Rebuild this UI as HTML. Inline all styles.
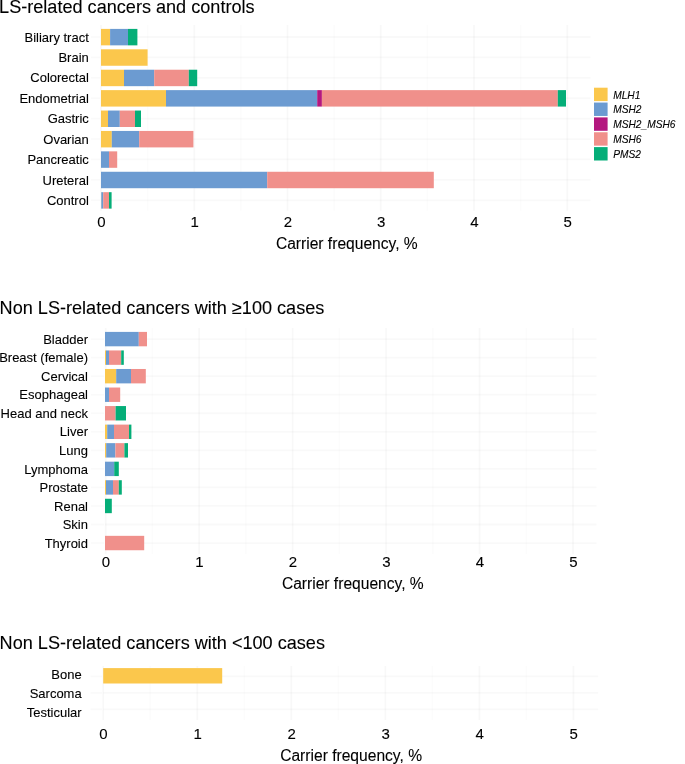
<!DOCTYPE html>
<html><head><meta charset="utf-8"><title>Carrier frequency</title>
<style>
html,body{margin:0;padding:0;background:#fff;}
body{width:685px;height:764px;overflow:hidden;position:relative;}
svg{position:absolute;left:0;top:0;display:block;will-change:transform;}
text{font-family:"Liberation Sans",sans-serif;fill:#000;stroke:#000;stroke-width:0.1px;}
</style></head><body>
<svg width="685" height="764" viewBox="0 0 685 764">
<rect x="0" y="0" width="685" height="764" fill="#ffffff"/>
<line x1="101.00" y1="25.00" x2="101.00" y2="210.80" stroke="#000" stroke-opacity="0.026" stroke-width="1.8"/>
<line x1="147.62" y1="25.00" x2="147.62" y2="210.80" stroke="#000" stroke-opacity="0.013" stroke-width="1.8"/>
<line x1="194.25" y1="25.00" x2="194.25" y2="210.80" stroke="#000" stroke-opacity="0.026" stroke-width="1.8"/>
<line x1="240.88" y1="25.00" x2="240.88" y2="210.80" stroke="#000" stroke-opacity="0.013" stroke-width="1.8"/>
<line x1="287.50" y1="25.00" x2="287.50" y2="210.80" stroke="#000" stroke-opacity="0.026" stroke-width="1.8"/>
<line x1="334.12" y1="25.00" x2="334.12" y2="210.80" stroke="#000" stroke-opacity="0.013" stroke-width="1.8"/>
<line x1="380.75" y1="25.00" x2="380.75" y2="210.80" stroke="#000" stroke-opacity="0.026" stroke-width="1.8"/>
<line x1="427.38" y1="25.00" x2="427.38" y2="210.80" stroke="#000" stroke-opacity="0.013" stroke-width="1.8"/>
<line x1="474.00" y1="25.00" x2="474.00" y2="210.80" stroke="#000" stroke-opacity="0.026" stroke-width="1.8"/>
<line x1="520.62" y1="25.00" x2="520.62" y2="210.80" stroke="#000" stroke-opacity="0.013" stroke-width="1.8"/>
<line x1="567.25" y1="25.00" x2="567.25" y2="210.80" stroke="#000" stroke-opacity="0.026" stroke-width="1.8"/>
<line x1="101.00" y1="37.00" x2="590.60" y2="37.00" stroke="#000" stroke-opacity="0.022" stroke-width="1.8"/>
<line x1="91.00" y1="37.00" x2="100.00" y2="37.00" stroke="#000" stroke-opacity="0.02" stroke-width="1.8"/>
<line x1="101.00" y1="57.41" x2="590.60" y2="57.41" stroke="#000" stroke-opacity="0.022" stroke-width="1.8"/>
<line x1="91.00" y1="57.41" x2="100.00" y2="57.41" stroke="#000" stroke-opacity="0.02" stroke-width="1.8"/>
<line x1="101.00" y1="77.82" x2="590.60" y2="77.82" stroke="#000" stroke-opacity="0.022" stroke-width="1.8"/>
<line x1="91.00" y1="77.82" x2="100.00" y2="77.82" stroke="#000" stroke-opacity="0.02" stroke-width="1.8"/>
<line x1="101.00" y1="98.23" x2="590.60" y2="98.23" stroke="#000" stroke-opacity="0.022" stroke-width="1.8"/>
<line x1="91.00" y1="98.23" x2="100.00" y2="98.23" stroke="#000" stroke-opacity="0.02" stroke-width="1.8"/>
<line x1="101.00" y1="118.64" x2="590.60" y2="118.64" stroke="#000" stroke-opacity="0.022" stroke-width="1.8"/>
<line x1="91.00" y1="118.64" x2="100.00" y2="118.64" stroke="#000" stroke-opacity="0.02" stroke-width="1.8"/>
<line x1="101.00" y1="139.05" x2="590.60" y2="139.05" stroke="#000" stroke-opacity="0.022" stroke-width="1.8"/>
<line x1="91.00" y1="139.05" x2="100.00" y2="139.05" stroke="#000" stroke-opacity="0.02" stroke-width="1.8"/>
<line x1="101.00" y1="159.46" x2="590.60" y2="159.46" stroke="#000" stroke-opacity="0.022" stroke-width="1.8"/>
<line x1="91.00" y1="159.46" x2="100.00" y2="159.46" stroke="#000" stroke-opacity="0.02" stroke-width="1.8"/>
<line x1="101.00" y1="179.87" x2="590.60" y2="179.87" stroke="#000" stroke-opacity="0.022" stroke-width="1.8"/>
<line x1="91.00" y1="179.87" x2="100.00" y2="179.87" stroke="#000" stroke-opacity="0.02" stroke-width="1.8"/>
<line x1="101.00" y1="200.28" x2="590.60" y2="200.28" stroke="#000" stroke-opacity="0.022" stroke-width="1.8"/>
<line x1="91.00" y1="200.28" x2="100.00" y2="200.28" stroke="#000" stroke-opacity="0.02" stroke-width="1.8"/>
<rect x="101.00" y="28.90" width="9.10" height="16.45" fill="#FBC74C"/>
<rect x="110.10" y="28.90" width="17.90" height="16.45" fill="#6C9BD1"/>
<rect x="128.00" y="28.90" width="9.40" height="16.45" fill="#05AE78"/>
<rect x="101.00" y="49.31" width="46.60" height="16.45" fill="#FBC74C"/>
<rect x="101.00" y="69.72" width="23.00" height="16.45" fill="#FBC74C"/>
<rect x="124.00" y="69.72" width="30.20" height="16.45" fill="#6C9BD1"/>
<rect x="154.20" y="69.72" width="34.60" height="16.45" fill="#F0908B"/>
<rect x="188.80" y="69.72" width="8.40" height="16.45" fill="#05AE78"/>
<rect x="101.00" y="90.13" width="65.00" height="16.45" fill="#FBC74C"/>
<rect x="166.00" y="90.13" width="151.20" height="16.45" fill="#6C9BD1"/>
<rect x="317.20" y="90.13" width="4.70" height="16.45" fill="#B4187F"/>
<rect x="321.90" y="90.13" width="235.90" height="16.45" fill="#F0908B"/>
<rect x="557.80" y="90.13" width="8.20" height="16.45" fill="#05AE78"/>
<rect x="101.00" y="110.54" width="7.00" height="16.45" fill="#FBC74C"/>
<rect x="108.00" y="110.54" width="11.80" height="16.45" fill="#6C9BD1"/>
<rect x="119.80" y="110.54" width="15.20" height="16.45" fill="#F0908B"/>
<rect x="135.00" y="110.54" width="6.00" height="16.45" fill="#05AE78"/>
<rect x="101.00" y="130.95" width="10.80" height="16.45" fill="#FBC74C"/>
<rect x="111.80" y="130.95" width="27.40" height="16.45" fill="#6C9BD1"/>
<rect x="139.20" y="130.95" width="54.20" height="16.45" fill="#F0908B"/>
<rect x="101.00" y="151.36" width="8.00" height="16.45" fill="#6C9BD1"/>
<rect x="109.00" y="151.36" width="8.20" height="16.45" fill="#F0908B"/>
<rect x="101.00" y="171.77" width="166.20" height="16.45" fill="#6C9BD1"/>
<rect x="267.20" y="171.77" width="166.60" height="16.45" fill="#F0908B"/>
<rect x="101.00" y="192.18" width="0.30" height="16.45" fill="#FBC74C"/>
<rect x="101.30" y="192.18" width="1.90" height="16.45" fill="#6C9BD1"/>
<rect x="103.20" y="192.18" width="5.80" height="16.45" fill="#F0908B"/>
<rect x="109.00" y="192.18" width="2.60" height="16.45" fill="#05AE78"/>
<text x="88.80" y="41.65" font-size="13" text-anchor="end" >Biliary tract</text>
<text x="88.80" y="62.06" font-size="13" text-anchor="end" >Brain</text>
<text x="88.80" y="82.47" font-size="13" text-anchor="end" >Colorectal</text>
<text x="88.80" y="102.88" font-size="13" text-anchor="end" >Endometrial</text>
<text x="88.80" y="123.29" font-size="13" text-anchor="end" >Gastric</text>
<text x="88.80" y="143.70" font-size="13" text-anchor="end" >Ovarian</text>
<text x="88.80" y="164.11" font-size="13" text-anchor="end" >Pancreatic</text>
<text x="88.80" y="184.52" font-size="13" text-anchor="end" >Ureteral</text>
<text x="88.80" y="204.93" font-size="13" text-anchor="end" >Control</text>
<text x="101.30" y="227.10" font-size="15" text-anchor="middle" >0</text>
<text x="194.55" y="227.10" font-size="15" text-anchor="middle" >1</text>
<text x="287.80" y="227.10" font-size="15" text-anchor="middle" >2</text>
<text x="381.05" y="227.10" font-size="15" text-anchor="middle" >3</text>
<text x="474.30" y="227.10" font-size="15" text-anchor="middle" >4</text>
<text x="567.55" y="227.10" font-size="15" text-anchor="middle" >5</text>
<text x="275.90" y="248.70" font-size="15.6" text-anchor="start" >Carrier frequency, %</text>
<line x1="105.70" y1="328.00" x2="105.70" y2="554.00" stroke="#000" stroke-opacity="0.026" stroke-width="1.8"/>
<line x1="152.43" y1="328.00" x2="152.43" y2="554.00" stroke="#000" stroke-opacity="0.013" stroke-width="1.8"/>
<line x1="199.16" y1="328.00" x2="199.16" y2="554.00" stroke="#000" stroke-opacity="0.026" stroke-width="1.8"/>
<line x1="245.89" y1="328.00" x2="245.89" y2="554.00" stroke="#000" stroke-opacity="0.013" stroke-width="1.8"/>
<line x1="292.62" y1="328.00" x2="292.62" y2="554.00" stroke="#000" stroke-opacity="0.026" stroke-width="1.8"/>
<line x1="339.35" y1="328.00" x2="339.35" y2="554.00" stroke="#000" stroke-opacity="0.013" stroke-width="1.8"/>
<line x1="386.08" y1="328.00" x2="386.08" y2="554.00" stroke="#000" stroke-opacity="0.026" stroke-width="1.8"/>
<line x1="432.81" y1="328.00" x2="432.81" y2="554.00" stroke="#000" stroke-opacity="0.013" stroke-width="1.8"/>
<line x1="479.54" y1="328.00" x2="479.54" y2="554.00" stroke="#000" stroke-opacity="0.026" stroke-width="1.8"/>
<line x1="526.27" y1="328.00" x2="526.27" y2="554.00" stroke="#000" stroke-opacity="0.013" stroke-width="1.8"/>
<line x1="573.00" y1="328.00" x2="573.00" y2="554.00" stroke="#000" stroke-opacity="0.026" stroke-width="1.8"/>
<line x1="105.00" y1="339.10" x2="596.60" y2="339.10" stroke="#000" stroke-opacity="0.022" stroke-width="1.8"/>
<line x1="91.00" y1="339.10" x2="104.00" y2="339.10" stroke="#000" stroke-opacity="0.02" stroke-width="1.8"/>
<line x1="105.00" y1="357.64" x2="596.60" y2="357.64" stroke="#000" stroke-opacity="0.022" stroke-width="1.8"/>
<line x1="91.00" y1="357.64" x2="104.00" y2="357.64" stroke="#000" stroke-opacity="0.02" stroke-width="1.8"/>
<line x1="105.00" y1="376.18" x2="596.60" y2="376.18" stroke="#000" stroke-opacity="0.022" stroke-width="1.8"/>
<line x1="91.00" y1="376.18" x2="104.00" y2="376.18" stroke="#000" stroke-opacity="0.02" stroke-width="1.8"/>
<line x1="105.00" y1="394.72" x2="596.60" y2="394.72" stroke="#000" stroke-opacity="0.022" stroke-width="1.8"/>
<line x1="91.00" y1="394.72" x2="104.00" y2="394.72" stroke="#000" stroke-opacity="0.02" stroke-width="1.8"/>
<line x1="105.00" y1="413.26" x2="596.60" y2="413.26" stroke="#000" stroke-opacity="0.022" stroke-width="1.8"/>
<line x1="91.00" y1="413.26" x2="104.00" y2="413.26" stroke="#000" stroke-opacity="0.02" stroke-width="1.8"/>
<line x1="105.00" y1="431.80" x2="596.60" y2="431.80" stroke="#000" stroke-opacity="0.022" stroke-width="1.8"/>
<line x1="91.00" y1="431.80" x2="104.00" y2="431.80" stroke="#000" stroke-opacity="0.02" stroke-width="1.8"/>
<line x1="105.00" y1="450.34" x2="596.60" y2="450.34" stroke="#000" stroke-opacity="0.022" stroke-width="1.8"/>
<line x1="91.00" y1="450.34" x2="104.00" y2="450.34" stroke="#000" stroke-opacity="0.02" stroke-width="1.8"/>
<line x1="105.00" y1="468.88" x2="596.60" y2="468.88" stroke="#000" stroke-opacity="0.022" stroke-width="1.8"/>
<line x1="91.00" y1="468.88" x2="104.00" y2="468.88" stroke="#000" stroke-opacity="0.02" stroke-width="1.8"/>
<line x1="105.00" y1="487.42" x2="596.60" y2="487.42" stroke="#000" stroke-opacity="0.022" stroke-width="1.8"/>
<line x1="91.00" y1="487.42" x2="104.00" y2="487.42" stroke="#000" stroke-opacity="0.02" stroke-width="1.8"/>
<line x1="105.00" y1="505.96" x2="596.60" y2="505.96" stroke="#000" stroke-opacity="0.022" stroke-width="1.8"/>
<line x1="91.00" y1="505.96" x2="104.00" y2="505.96" stroke="#000" stroke-opacity="0.02" stroke-width="1.8"/>
<line x1="105.00" y1="524.50" x2="596.60" y2="524.50" stroke="#000" stroke-opacity="0.022" stroke-width="1.8"/>
<line x1="91.00" y1="524.50" x2="104.00" y2="524.50" stroke="#000" stroke-opacity="0.02" stroke-width="1.8"/>
<line x1="105.00" y1="543.04" x2="596.60" y2="543.04" stroke="#000" stroke-opacity="0.022" stroke-width="1.8"/>
<line x1="91.00" y1="543.04" x2="104.00" y2="543.04" stroke="#000" stroke-opacity="0.02" stroke-width="1.8"/>
<rect x="105.00" y="331.90" width="33.80" height="14.40" fill="#6C9BD1"/>
<rect x="138.80" y="331.90" width="8.20" height="14.40" fill="#F0908B"/>
<rect x="105.00" y="350.44" width="1.00" height="14.40" fill="#FBC74C"/>
<rect x="106.00" y="350.44" width="3.00" height="14.40" fill="#6C9BD1"/>
<rect x="109.00" y="350.44" width="12.20" height="14.40" fill="#F0908B"/>
<rect x="121.20" y="350.44" width="2.60" height="14.40" fill="#05AE78"/>
<rect x="105.00" y="368.98" width="11.20" height="14.40" fill="#FBC74C"/>
<rect x="116.20" y="368.98" width="14.80" height="14.40" fill="#6C9BD1"/>
<rect x="131.00" y="368.98" width="14.80" height="14.40" fill="#F0908B"/>
<rect x="105.00" y="387.52" width="4.00" height="14.40" fill="#6C9BD1"/>
<rect x="109.00" y="387.52" width="11.20" height="14.40" fill="#F0908B"/>
<rect x="105.00" y="406.06" width="10.60" height="14.40" fill="#F0908B"/>
<rect x="115.60" y="406.06" width="10.40" height="14.40" fill="#05AE78"/>
<rect x="105.00" y="424.60" width="2.20" height="14.40" fill="#FBC74C"/>
<rect x="107.20" y="424.60" width="6.80" height="14.40" fill="#6C9BD1"/>
<rect x="114.00" y="424.60" width="15.00" height="14.40" fill="#F0908B"/>
<rect x="129.00" y="424.60" width="2.40" height="14.40" fill="#05AE78"/>
<rect x="105.00" y="443.14" width="1.20" height="14.40" fill="#FBC74C"/>
<rect x="106.20" y="443.14" width="9.20" height="14.40" fill="#6C9BD1"/>
<rect x="115.40" y="443.14" width="9.00" height="14.40" fill="#F0908B"/>
<rect x="124.40" y="443.14" width="3.60" height="14.40" fill="#05AE78"/>
<rect x="105.00" y="461.68" width="9.20" height="14.40" fill="#6C9BD1"/>
<rect x="114.20" y="461.68" width="4.60" height="14.40" fill="#05AE78"/>
<rect x="105.00" y="480.22" width="1.00" height="14.40" fill="#FBC74C"/>
<rect x="106.00" y="480.22" width="7.00" height="14.40" fill="#6C9BD1"/>
<rect x="113.00" y="480.22" width="5.80" height="14.40" fill="#F0908B"/>
<rect x="118.80" y="480.22" width="3.00" height="14.40" fill="#05AE78"/>
<rect x="105.00" y="498.76" width="6.80" height="14.40" fill="#05AE78"/>
<rect x="105.00" y="535.84" width="39.20" height="14.40" fill="#F0908B"/>
<text x="88.00" y="343.75" font-size="13" text-anchor="end" >Bladder</text>
<text x="88.00" y="362.29" font-size="13" text-anchor="end" >Breast (female)</text>
<text x="88.00" y="380.83" font-size="13" text-anchor="end" >Cervical</text>
<text x="88.00" y="399.37" font-size="13" text-anchor="end" >Esophageal</text>
<text x="88.00" y="417.91" font-size="13" text-anchor="end" >Head and neck</text>
<text x="88.00" y="436.45" font-size="13" text-anchor="end" >Liver</text>
<text x="88.00" y="454.99" font-size="13" text-anchor="end" >Lung</text>
<text x="88.00" y="473.53" font-size="13" text-anchor="end" >Lymphoma</text>
<text x="88.00" y="492.07" font-size="13" text-anchor="end" >Prostate</text>
<text x="88.00" y="510.61" font-size="13" text-anchor="end" >Renal</text>
<text x="88.00" y="529.15" font-size="13" text-anchor="end" >Skin</text>
<text x="88.00" y="547.69" font-size="13" text-anchor="end" >Thyroid</text>
<text x="106.00" y="567.20" font-size="15" text-anchor="middle" >0</text>
<text x="199.46" y="567.20" font-size="15" text-anchor="middle" >1</text>
<text x="292.92" y="567.20" font-size="15" text-anchor="middle" >2</text>
<text x="386.38" y="567.20" font-size="15" text-anchor="middle" >3</text>
<text x="479.84" y="567.20" font-size="15" text-anchor="middle" >4</text>
<text x="573.30" y="567.20" font-size="15" text-anchor="middle" >5</text>
<text x="281.90" y="589.00" font-size="15.6" text-anchor="start" >Carrier frequency, %</text>
<line x1="103.20" y1="666.00" x2="103.20" y2="720.00" stroke="#000" stroke-opacity="0.026" stroke-width="1.8"/>
<line x1="150.22" y1="666.00" x2="150.22" y2="720.00" stroke="#000" stroke-opacity="0.013" stroke-width="1.8"/>
<line x1="197.25" y1="666.00" x2="197.25" y2="720.00" stroke="#000" stroke-opacity="0.026" stroke-width="1.8"/>
<line x1="244.27" y1="666.00" x2="244.27" y2="720.00" stroke="#000" stroke-opacity="0.013" stroke-width="1.8"/>
<line x1="291.30" y1="666.00" x2="291.30" y2="720.00" stroke="#000" stroke-opacity="0.026" stroke-width="1.8"/>
<line x1="338.32" y1="666.00" x2="338.32" y2="720.00" stroke="#000" stroke-opacity="0.013" stroke-width="1.8"/>
<line x1="385.35" y1="666.00" x2="385.35" y2="720.00" stroke="#000" stroke-opacity="0.026" stroke-width="1.8"/>
<line x1="432.38" y1="666.00" x2="432.38" y2="720.00" stroke="#000" stroke-opacity="0.013" stroke-width="1.8"/>
<line x1="479.40" y1="666.00" x2="479.40" y2="720.00" stroke="#000" stroke-opacity="0.026" stroke-width="1.8"/>
<line x1="526.42" y1="666.00" x2="526.42" y2="720.00" stroke="#000" stroke-opacity="0.013" stroke-width="1.8"/>
<line x1="573.45" y1="666.00" x2="573.45" y2="720.00" stroke="#000" stroke-opacity="0.026" stroke-width="1.8"/>
<line x1="103.20" y1="676.40" x2="598.20" y2="676.40" stroke="#000" stroke-opacity="0.022" stroke-width="1.8"/>
<line x1="90.50" y1="676.40" x2="102.20" y2="676.40" stroke="#000" stroke-opacity="0.02" stroke-width="1.8"/>
<line x1="103.20" y1="692.90" x2="598.20" y2="692.90" stroke="#000" stroke-opacity="0.022" stroke-width="1.8"/>
<line x1="90.50" y1="692.90" x2="102.20" y2="692.90" stroke="#000" stroke-opacity="0.02" stroke-width="1.8"/>
<line x1="103.20" y1="709.30" x2="598.20" y2="709.30" stroke="#000" stroke-opacity="0.022" stroke-width="1.8"/>
<line x1="90.50" y1="709.30" x2="102.20" y2="709.30" stroke="#000" stroke-opacity="0.02" stroke-width="1.8"/>
<rect x="103.20" y="668.10" width="119.00" height="15.40" fill="#FBC74C"/>
<text x="81.70" y="679.15" font-size="13" text-anchor="end" >Bone</text>
<text x="81.70" y="698.15" font-size="13" text-anchor="end" >Sarcoma</text>
<text x="81.70" y="716.65" font-size="13" text-anchor="end" >Testicular</text>
<text x="103.50" y="739.30" font-size="15" text-anchor="middle" >0</text>
<text x="197.55" y="739.30" font-size="15" text-anchor="middle" >1</text>
<text x="291.60" y="739.30" font-size="15" text-anchor="middle" >2</text>
<text x="385.65" y="739.30" font-size="15" text-anchor="middle" >3</text>
<text x="479.70" y="739.30" font-size="15" text-anchor="middle" >4</text>
<text x="573.75" y="739.30" font-size="15" text-anchor="middle" >5</text>
<text x="280.20" y="760.80" font-size="15.6" text-anchor="start" >Carrier frequency, %</text>
<text x="-0.90" y="13.00" font-size="18.1" text-anchor="start" >LS-related cancers and controls</text>
<text x="-0.40" y="313.90" font-size="18.1" text-anchor="start" >Non LS-related cancers with ≥100 cases</text>
<text x="-0.40" y="648.60" font-size="18.1" text-anchor="start" >Non LS-related cancers with &lt;100 cases</text>
<rect x="594.00" y="87.70" width="13.60" height="13.40" fill="#FBC74C"/>
<text x="613.20" y="98.60" font-size="10.2" text-anchor="start" font-style="italic">MLH1</text>
<rect x="594.00" y="102.55" width="13.60" height="13.40" fill="#6C9BD1"/>
<text x="613.20" y="113.45" font-size="10.2" text-anchor="start" font-style="italic">MSH2</text>
<rect x="594.00" y="117.40" width="13.60" height="13.40" fill="#B4187F"/>
<text x="613.20" y="128.30" font-size="10.2" text-anchor="start" font-style="italic">MSH2_MSH6</text>
<rect x="594.00" y="132.25" width="13.60" height="13.40" fill="#F0908B"/>
<text x="613.20" y="143.15" font-size="10.2" text-anchor="start" font-style="italic">MSH6</text>
<rect x="594.00" y="147.10" width="13.60" height="13.40" fill="#05AE78"/>
<text x="613.20" y="158.00" font-size="10.2" text-anchor="start" font-style="italic">PMS2</text>
</svg>
</body></html>
